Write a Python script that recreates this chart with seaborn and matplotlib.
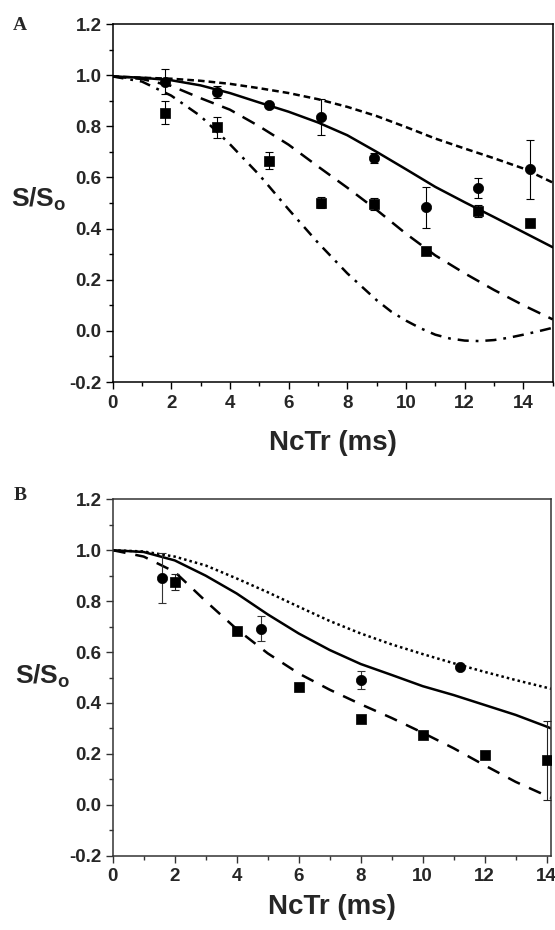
import matplotlib
matplotlib.use("Agg")
import matplotlib.pyplot as plt
import seaborn as sns
from matplotlib.ticker import MultipleLocator

# ---------------- Panel A data ----------------
a_x = [1.78, 3.56, 5.34, 7.12, 8.90, 10.68, 12.46, 14.24]
a_circ = [0.975, 0.934, 0.882, 0.836, 0.676, 0.483, 0.558, 0.632]
a_circ_err = [0.05, 0.025, 0.012, 0.07, 0.02, 0.08, 0.04, 0.115]
a_sq = [0.853, 0.796, 0.665, 0.501, 0.496, 0.311, 0.469, 0.421]
a_sq_err = [0.044, 0.04, 0.033, 0.022, 0.022, 0.0, 0.022, 0.01]

a_curve_x = [0, 1, 2, 3, 4, 5, 6, 7, 8, 9, 10, 11, 12, 13, 14, 15]
a_shortdash = [0.995, 0.99, 0.986, 0.978, 0.966, 0.949, 0.93, 0.906, 0.876, 0.84,
               0.797, 0.752, 0.713, 0.675, 0.635, 0.58]
a_solid = [0.995, 0.99, 0.98, 0.96, 0.93, 0.893, 0.857, 0.815, 0.765, 0.70,
           0.632, 0.563, 0.503, 0.445, 0.386, 0.327]
a_longdash = [0.995, 0.985, 0.958, 0.91, 0.865, 0.80, 0.728, 0.643, 0.56, 0.473,
              0.38, 0.295, 0.225, 0.16, 0.10, 0.045]
a_dd_x = [0, 1, 2, 3, 4, 5, 6, 7, 8, 9, 9.5, 10, 10.5, 11, 11.5, 12, 12.5, 13,
          13.5, 14, 14.5, 15]
a_dashdot = [0.995, 0.975, 0.92, 0.84, 0.73, 0.61, 0.475, 0.345, 0.225, 0.12,
             0.075, 0.04, 0.01, -0.015, -0.03, -0.038, -0.04, -0.036, -0.027,
             -0.015, -0.002, 0.012]

# ---------------- Panel B data ----------------
b_circ_x = [1.6, 4.8, 8.0, 11.2]
b_circ = [0.891, 0.692, 0.489, 0.542]
b_circ_err = [0.1, 0.05, 0.035, 0.0]
b_sq_x = [2, 4, 6, 8, 10, 12, 14]
b_sq = [0.875, 0.682, 0.463, 0.336, 0.273, 0.197, 0.175]
b_sq_err = [0.031, 0.0, 0.015, 0.0, 0.0, 0.0, 0.156]

b_curve_x = [0, 1, 2, 3, 4, 5, 6, 7, 8, 9, 10, 11, 12, 13, 14, 14.2]
b_dotted = [1.0, 0.995, 0.975, 0.94, 0.889, 0.835, 0.778, 0.722, 0.673, 0.63,
            0.592, 0.556, 0.522, 0.49, 0.46, 0.454]
b_solid = [1.0, 0.993, 0.96, 0.90, 0.83, 0.748, 0.673, 0.608, 0.553, 0.51,
           0.466, 0.431, 0.392, 0.353, 0.307, 0.297]
b_dashed = [1.0, 0.975, 0.915, 0.80, 0.69, 0.595, 0.516, 0.452, 0.395, 0.341,
            0.283, 0.222, 0.155, 0.09, 0.035, 0.025]

x_ticks_a = [0, 2, 4, 6, 8, 10, 12, 14]
x_ticks_b = [0, 2, 4, 6, 8, 10, 12, 14]
y_ticks = [-0.2, 0.0, 0.2, 0.4, 0.6, 0.8, 1.0, 1.2]

# ---------------- style ----------------
sns.set_style("ticks")
plt.rcParams["font.family"] = ["Liberation Sans", "DejaVu Sans"]
plt.rcParams["font.weight"] = "bold"
plt.rcParams["mathtext.fontset"] = "custom"
plt.rcParams["mathtext.rm"] = "Liberation Sans:bold"
plt.rcParams["mathtext.bf"] = "Liberation Sans:bold"
plt.rcParams["lines.scale_dashes"] = False

W, H = 555, 930
fig = plt.figure(figsize=(W / 100, H / 100), dpi=100)


def px_axes(l, r, t, b):
    return fig.add_axes([l / W, 1 - b / H, (r - l) / W, (b - t) / H])


axA = px_axes(112.5, 552.7, 24, 382)
axB = px_axes(112.7, 550.7, 499.3, 855.7)


def style_axis(ax, xlim, xticks, spine_color, label_y, ylab_pos):
    ax.set_xlim(*xlim)
    ax.set_ylim(-0.2, 1.2)
    ax.set_xticks(xticks)
    ax.set_yticks(y_ticks)
    ax.set_xticklabels([str(t) for t in xticks])
    ax.set_yticklabels([f"{t:.1f}" for t in y_ticks])
    ax.xaxis.set_minor_locator(MultipleLocator(1))
    ax.yaxis.set_minor_locator(MultipleLocator(0.1))
    for s in ax.spines.values():
        s.set_linewidth(1.1)
        s.set_color(spine_color)
        s.set_visible(True)
    ax.tick_params(which="major", direction="out", length=5, width=1.0,
                   labelsize=13.5, color=spine_color, top=False, right=False)
    ax.tick_params(axis="x", which="major", pad=4)
    ax.tick_params(axis="y", which="major", pad=3)
    ax.tick_params(which="minor", direction="out", length=3, width=1.0,
                   color=spine_color, top=False, right=False)
    for lab in ax.get_xticklabels() + ax.get_yticklabels():
        lab.set_fontweight("bold")
    ax.set_xlabel("NcTr (ms)", fontsize=20, fontweight="bold")
    ax.xaxis.set_label_coords(0.5, label_y)
    ax.xaxis.label.set_va("center")
    ax.set_ylabel(r"S/S$_\mathrm{o}$", fontsize=19, fontweight="bold",
                  rotation=0, ha="center", va="center")
    ax.yaxis.set_label_coords(*ylab_pos)
    ax.set_facecolor("white")


lw = 1.8
# ---- Panel A ----
sns.lineplot(x=a_curve_x, y=a_shortdash, ax=axA, color="black", lw=lw,
             linestyle=(0, (4.8, 2.9)), sort=False, estimator=None)
sns.lineplot(x=a_curve_x, y=a_solid, ax=axA, color="black", lw=lw,
             linestyle="-", sort=False, estimator=None)
sns.lineplot(x=a_curve_x, y=a_longdash, ax=axA, color="black", lw=lw,
             linestyle=(0, (10, 6.5)), sort=False, estimator=None)
sns.lineplot(x=a_dd_x, y=a_dashdot, ax=axA, color="black", lw=lw,
             linestyle=(0, (8, 5, 2, 5)), sort=False, estimator=None)
axA.errorbar(a_x, a_circ, yerr=a_circ_err, fmt="none", ecolor="black",
             elinewidth=0.8, capsize=3, capthick=0.8, zorder=3)
axA.errorbar(a_x, a_sq, yerr=a_sq_err, fmt="none", ecolor="black",
             elinewidth=0.8, capsize=3, capthick=0.8, zorder=3)
sns.scatterplot(x=a_x, y=a_circ, ax=axA, marker="o", s=55, color="black",
                edgecolor="black", linewidth=0.5, zorder=4)
sns.scatterplot(x=a_x, y=a_sq, ax=axA, marker="s", s=42, color="black",
                edgecolor="black", linewidth=0.5, zorder=4)
style_axis(axA, (0, 15), x_ticks_a, "black", -0.17, (-0.167, 0.51))

# ---- Panel B ----
sns.lineplot(x=b_curve_x, y=b_dotted, ax=axB, color="black", lw=lw,
             linestyle=(0, (1.8, 2.2)), sort=False, estimator=None)
sns.lineplot(x=b_curve_x, y=b_solid, ax=axB, color="black", lw=lw,
             linestyle="-", sort=False, estimator=None)
sns.lineplot(x=b_curve_x, y=b_dashed, ax=axB, color="black", lw=lw,
             linestyle=(0, (9.4, 7.2)), sort=False, estimator=None)
axB.errorbar(b_circ_x, b_circ, yerr=b_circ_err, fmt="none", ecolor="#333333",
             elinewidth=0.8, capsize=3, capthick=0.8, zorder=3)
axB.errorbar(b_sq_x, b_sq, yerr=b_sq_err, fmt="none", ecolor="#222222",
             elinewidth=0.8, capsize=3, capthick=0.8, zorder=3)
sns.scatterplot(x=b_circ_x, y=b_circ, ax=axB, marker="o", s=55, color="black",
                edgecolor="black", linewidth=0.5, zorder=4)
sns.scatterplot(x=b_sq_x, y=b_sq, ax=axB, marker="s", s=42, color="black",
                edgecolor="black", linewidth=0.5, zorder=4)
style_axis(axB, (0, 14.13), x_ticks_b, "#333333", -0.143, (-0.16, 0.504))

# panel letters
fig.text(20 / W, 1 - 25 / H, "A", family=["Liberation Serif", "DejaVu Serif"],
         fontweight="bold", fontsize=14, ha="center", va="center")
fig.text(20 / W, 1 - 495 / H, "B", family=["Liberation Serif", "DejaVu Serif"],
         fontweight="bold", fontsize=14, ha="center", va="center")

fig.savefig("out.png", dpi=100, facecolor="white")
